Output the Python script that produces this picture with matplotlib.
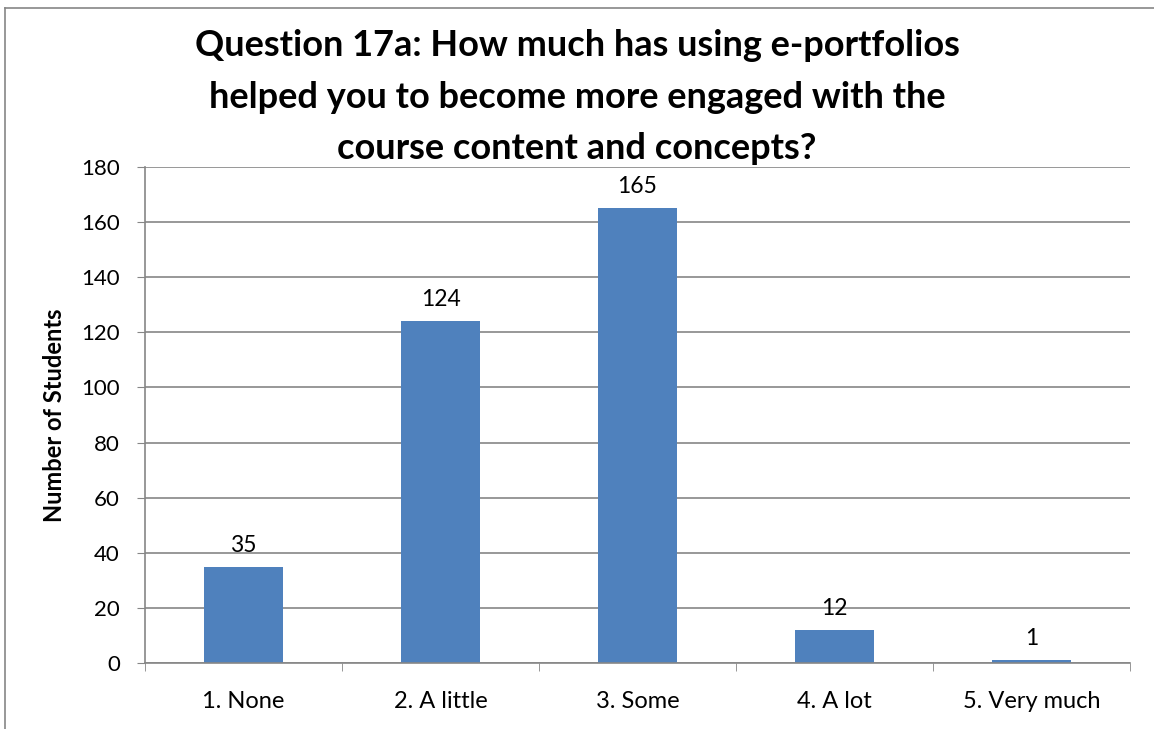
import matplotlib
matplotlib.use("Agg")
import matplotlib.pyplot as plt
from matplotlib.lines import Line2D

categories = ['1. None', '2. A little', '3. Some', '4. A lot', '5. Very much']
students = [35, 124, 165, 12, 1]

plt.rcParams['font.family'] = ['Lato', 'DejaVu Sans']

fig = plt.figure(figsize=(11.54, 7.29), dpi=100)
ax = fig.add_axes([145 / 1154, 1 - 663 / 729, (1130 - 145) / 1154, (663 - 167) / 729])

x = list(range(len(categories)))
bars = ax.bar(x, students, width=0.4, color='#4F81BD')
for b, v in zip(bars, students):
    ax.text(b.get_x() + b.get_width() / 2, v + 4, str(v), ha='center', va='bottom', fontsize=16.5)

ax.set_xlim(-0.5, len(categories) - 0.5)
ax.set_ylim(0, 180)
ax.set_yticks(range(0, 181, 20))
ax.set_xticks(x)
ax.set_xticklabels(categories, fontsize=17)
ax.tick_params(axis='y', labelsize=16, length=6, color='#868686', pad=12)
ax.tick_params(axis='x', length=0, pad=20)
# category boundary ticks
ax.set_xticks([i - 0.5 for i in range(len(categories) + 1)], minor=True)
ax.tick_params(axis='x', which='minor', length=6, color='#868686')
ax.yaxis.grid(True, color='#868686', linewidth=1.2)
ax.set_axisbelow(True)
for s in ['top', 'right']:
    ax.spines[s].set_visible(False)
for s in ['left', 'bottom']:
    ax.spines[s].set_color('#868686')
    ax.spines[s].set_linewidth(1.2)

ax.set_ylabel('Number of Students', fontsize=17, fontweight='bold', labelpad=11)
fig.text(0.5, 1 - 97 / 729,
         'Question 17a: How much has using e-portfolios\nhelped you to become more engaged with the\ncourse content and concepts?',
         ha='center', va='center', fontsize=26, fontweight='bold', linespacing=1.68)

# outer chart frame (cropped at right and bottom)
fig.add_artist(Line2D([5 / 1154, 5 / 1154], [0, 1 - 8 / 729], color='#868686', linewidth=1.2))
fig.add_artist(Line2D([5 / 1154, 1], [1 - 8 / 729, 1 - 8 / 729], color='#868686', linewidth=1.2))

fig.savefig('out.png', dpi=100)
